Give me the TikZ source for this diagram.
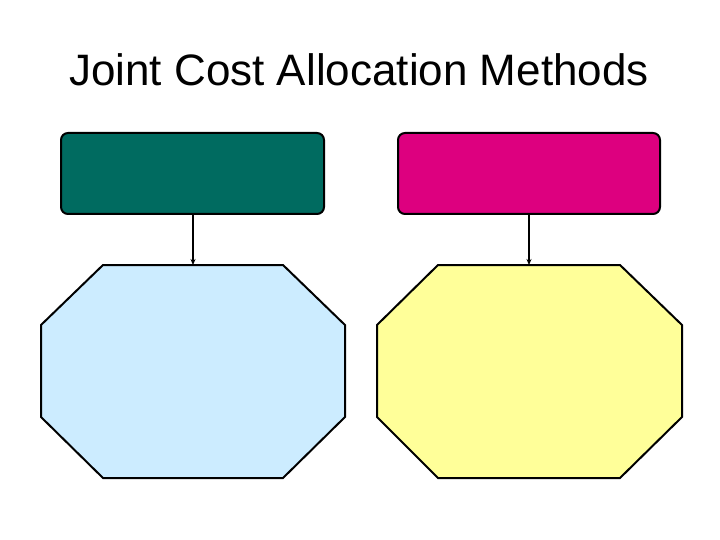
\documentclass[tikz,border=0pt]{standalone}
\usepackage{fontspec}
\setmainfont{Liberation Sans}
\usetikzlibrary{arrows.meta}
\definecolor{tealbox}{RGB}{0,107,96}
\definecolor{magbox}{RGB}{221,0,127}
\definecolor{lblue}{RGB}{204,236,255}
\definecolor{lyellow}{RGB}{255,255,153}
\tikzset{
  topbox/.style={draw=black, line width=2pt, rounded corners=7pt},
  octo/.style={draw=black, line width=2pt},
  conn/.style={draw=black, line width=1.2pt, -{Stealth[length=6pt,width=5pt]}}
}
\begin{document}
\begin{tikzpicture}[x=1pt,y=-1pt]
\useasboundingbox (0,0) rectangle (720,540);
\node[font=\fontsize{44}{48}\selectfont, anchor=base] (title) at (359,86) {Joint Cost Allocation Methods};
% top boxes
\path[topbox, fill=tealbox] (61,133) rectangle (324,214);
\coordinate (ta) at (193,214);
\path[topbox, fill=magbox] (398,133) rectangle (660,214);
\coordinate (tb) at (529,214);
% octagons
\path[octo, fill=lblue] (103,265) -- (283,265) -- (345,325) -- (345,417) -- (283,478) -- (103,478) -- (41,417) -- (41,325) -- cycle;
\coordinate (oa) at (193,265);
\path[octo, fill=lyellow] (438,265) -- (620,265) -- (682,325) -- (682,417) -- (620,478) -- (438,478) -- (377,417) -- (377,325) -- cycle;
\coordinate (ob) at (529,265);
\draw[conn] (ta) -- (oa);
\draw[conn] (tb) -- (ob);
\end{tikzpicture}
\end{document}
